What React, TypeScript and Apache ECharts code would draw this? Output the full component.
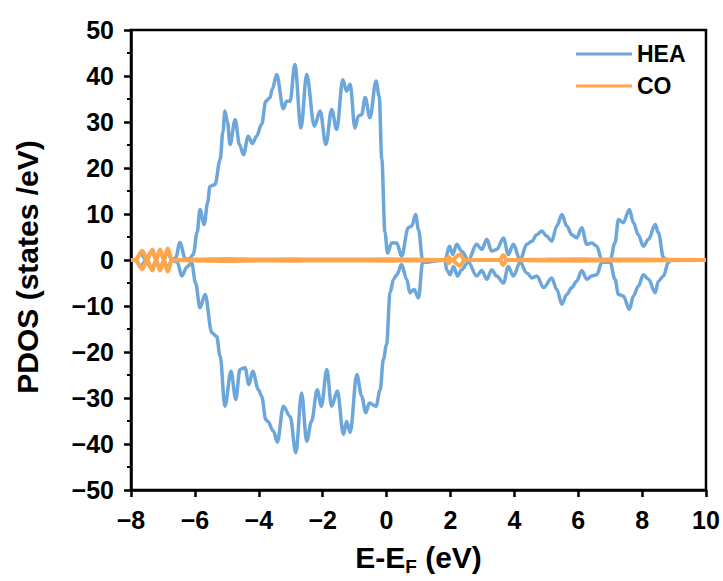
import React, { useEffect, useRef } from "react";
import * as echarts from "echarts";

const xTicks = { min: -8, max: 10, interval: 2 };
const yTicks = { min: -50, max: 50, interval: 10 };

const heaUp: number[][] = [
  [-8, 0], [-7.85, 0.1], [-7.7, 1.5], [-7.55, 0.2], [-7.35, 1.8], [-7.22, 0.3], [-7.1, 1.8],
  [-6.97, 0.3], [-6.85, 1.6], [-6.72, 0], [-6.6, 0.5], [-6.47, 3.8], [-6.3, 0.3], [-6.18, 0.2],
  [-6.05, 1.2], [-5.93, 6], [-5.84, 11.0], [-5.71, 7.7], [-5.6, 12.5], [-5.53, 16], [-5.37, 16.4],
  [-5.21, 21.8], [-5.12, 28], [-5.06, 32.4], [-4.98, 30], [-4.9, 25.1], [-4.74, 30.5], [-4.6, 25],
  [-4.48, 22.9], [-4.33, 26.9], [-4.2, 25.3], [-4.07, 26.9], [-3.91, 29.5], [-3.78, 34.5],
  [-3.65, 35.3], [-3.58, 37.1], [-3.44, 40.3], [-3.23, 32.9], [-3.13, 34.5], [-3.02, 34.5],
  [-2.87, 42.5], [-2.68, 28.7], [-2.5, 40.3], [-2.26, 29.1], [-2.08, 32.4], [-1.9, 25.1],
  [-1.72, 32.7], [-1.56, 28.4], [-1.37, 39.2], [-1.25, 36.7], [-1.14, 38.2], [-0.99, 28.7],
  [-0.88, 31.3], [-0.78, 31.6], [-0.67, 35.3], [-0.52, 30.9], [-0.33, 38.9], [-0.23, 35.6],
  [-0.15, 22], [-0.05, 6], [0.03, 1.5], [0.16, 3.7], [0.32, 3.7], [0.47, 0.8], [0.68, 7.0],
  [0.79, 7.4], [0.91, 9.9], [1.0, 6.6], [1.13, 0], [1.83, 0], [1.97, 3.0], [2.07, 1.2],
  [2.2, 3.4], [2.35, 1.9], [2.56, 0], [2.82, 3.4], [2.98, 2.3], [3.14, 4.5], [3.29, 1.9],
  [3.45, 2.3], [3.66, 4.8], [3.81, 1.2], [3.97, 3.4], [4.18, 0], [4.39, 3.4], [4.55, 4.1],
  [4.7, 5.5], [4.86, 6.3], [5.01, 5.2], [5.17, 4.1], [5.33, 7.4], [5.49, 9.9], [5.64, 7.4],
  [5.8, 5.5], [5.95, 4.8], [6.11, 7.0], [6.27, 3.4], [6.42, 3.7], [6.58, 3.0], [6.74, 0],
  [7.0, 0], [7.15, 3.7], [7.26, 8.8], [7.41, 8.1], [7.6, 11.0], [7.73, 8.1], [7.88, 5.5],
  [8.04, 3.0], [8.2, 4.5], [8.41, 7.7], [8.51, 5.9], [8.67, 0.5], [8.77, 0], [10, 0],
];

const heaDown: number[][] = [
  [-8, 0], [-7.85, -0.1], [-7.7, -1.5], [-7.55, -0.2], [-7.35, -1.8], [-7.22, -0.3], [-7.1, -1.8],
  [-6.97, -0.3], [-6.85, -1.6], [-6.72, 0], [-6.55, -0.5], [-6.41, -3.5], [-6.25, -1.5],
  [-6.1, -0.6], [-5.98, -5], [-5.84, -10.4], [-5.68, -7.5], [-5.47, -15.8], [-5.32, -16.6],
  [-5.21, -20.9], [-5.06, -31.8], [-4.87, -24.2], [-4.72, -30.3], [-4.59, -23.8], [-4.43, -23.4],
  [-4.31, -27.1], [-4.19, -24.2], [-4.01, -28.2], [-3.91, -29.6], [-3.78, -34.7], [-3.72, -35.1],
  [-3.54, -37.2], [-3.42, -39.6], [-3.23, -31.8], [-3.02, -34.0], [-2.84, -41.9], [-2.66, -28.9],
  [-2.5, -39.4], [-2.35, -35.1], [-2.17, -28.2], [-2.04, -31.8], [-1.87, -23.8], [-1.72, -31.8],
  [-1.54, -28.5], [-1.35, -37.9], [-1.25, -35.1], [-1.14, -37.5], [-0.93, -24.9], [-0.78, -29.6],
  [-0.65, -33.2], [-0.54, -31.1], [-0.33, -31.8], [-0.2, -28.2], [-0.1, -21.6], [0.0, -18.4],
  [0.11, -7.1], [0.22, -4.2], [0.32, -3.2], [0.47, -1.0], [0.63, -4.2], [0.73, -7.1],
  [0.86, -6.4], [1.0, -8.2], [1.13, -0.5], [1.83, 0], [1.88, -2.1], [1.99, -3.2], [2.1, -1.4],
  [2.22, -3.5], [2.35, -2.1], [2.56, -0.5], [2.82, -3.5], [2.98, -2.3], [3.14, -4.2],
  [3.29, -2.1], [3.45, -3.5], [3.66, -5.0], [3.81, -1.4], [3.97, -3.5], [4.18, -0.5],
  [4.39, -2.8], [4.55, -3.9], [4.7, -3.5], [4.92, -6.0], [5.17, -3.9], [5.33, -6.4],
  [5.49, -9.6], [5.64, -7.5], [5.8, -6.0], [5.95, -4.6], [6.11, -2.3], [6.27, -4.2],
  [6.42, -3.5], [6.58, -3.2], [6.74, -0.5], [7.0, -0.5], [7.15, -4.2], [7.26, -7.5],
  [7.41, -7.8], [7.6, -10.7], [7.73, -7.8], [7.88, -5.7], [8.04, -3.2], [8.2, -4.2],
  [8.41, -7.1], [8.51, -4.6], [8.67, -3.5], [8.82, -0.5], [8.9, 0], [10, 0],
];

const coUp: number[][] = [
  [-8, 0], [-7.85, 0], [-7.65, 2.0], [-7.49, 0], [-7.33, 2.3], [-7.21, 0], [-7.09, 2.3],
  [-6.97, 0], [-6.85, 2.5], [-6.72, 0], [-6.0, 0.1], [-5.0, 0.2], [-4.0, 0.1], [-3.0, 0.15],
  [-2.0, 0.1], [-1.0, 0.1], [0.0, 0.15], [1.0, 0.1], [1.86, 0], [1.94, 0.7], [2.03, 0],
  [2.3, 1.2], [2.45, 0], [3.55, 0], [3.65, 1.1], [3.76, 0], [5.0, 0.1], [6.0, 0.15],
  [7.0, 0.1], [8.0, 0.1], [10, 0],
];

const coDown: number[][] = [
  [-8, 0], [-7.85, 0], [-7.65, -2.0], [-7.49, 0], [-7.33, -2.3], [-7.21, 0], [-7.09, -2.3],
  [-6.97, 0], [-6.85, -2.5], [-6.72, 0], [-6.0, -0.1], [-5.0, -0.2], [-4.0, -0.1], [-3.0, -0.15],
  [-2.0, -0.1], [-1.0, -0.1], [0.0, -0.15], [1.0, -0.1], [1.86, 0], [1.94, -0.7], [2.03, 0],
  [2.3, -1.2], [2.45, 0], [3.55, 0], [3.65, -1.1], [3.76, 0], [5.0, -0.1], [6.0, -0.15],
  [7.0, -0.1], [8.0, -0.1], [10, 0],
];

const BLUE = "#6DA6DA";
const ORANGE = "#FFA64D";
const FONT = "'Liberation Sans', Arial, Helvetica, sans-serif";

const minus = (v: number) => String(v).replace("-", "\u2212");

export default function App() {
  const ref = useRef<HTMLDivElement>(null);
  useEffect(() => {
    if (!ref.current) return;
    const chart = echarts.init(ref.current, undefined, { renderer: "svg" });
    const lineSeries = (name: string, data: number[][], color: string, width: number) => ({
      type: "line",
      name,
      data,
      showSymbol: false,
      symbol: "none",
      smooth: 0.35,
      smoothMonotone: "x",
      lineStyle: { color, width },
      itemStyle: { color },
    });
    chart.setOption({
      animation: false,
      backgroundColor: "#fff",
      grid: {
        left: 131,
        right: 17,
        top: 30,
        bottom: 90,
        show: true,
        borderColor: "#000",
        borderWidth: 2.5,
        backgroundColor: "transparent",
      },
      legend: {
        data: [
          { name: "HEA", icon: "rect" },
          { name: "CO", icon: "rect" },
        ],
        orient: "vertical",
        left: 571,
        top: 37,
        padding: 5,
        itemWidth: 56,
        itemHeight: 3,
        itemGap: 8,
        textStyle: { fontFamily: FONT, fontWeight: "bold", fontSize: 23, lineHeight: 24, color: "#000" },
      },
      xAxis: {
        type: "value",
        min: xTicks.min,
        max: xTicks.max,
        interval: xTicks.interval,
        axisLine: { show: true, onZero: false, lineStyle: { color: "#000", width: 2.5 } },
        axisTick: { show: true, inside: false, length: 7, lineStyle: { color: "#000", width: 2.5 } },
        splitLine: { show: false },
        axisLabel: {
          formatter: minus,
          fontFamily: FONT,
          fontWeight: "bold",
          fontSize: 25,
          color: "#000",
          margin: 17,
        },
        name: "E-E{sub|F} (eV)",
        nameLocation: "middle",
        nameGap: 49,
        nameTextStyle: {
          fontFamily: FONT,
          fontWeight: "bold",
          fontSize: 30,
          color: "#000",
          rich: {
            sub: { fontFamily: FONT, fontWeight: "bold", fontSize: 19, color: "#000", verticalAlign: "bottom", padding: [18, 0, 0, 0] },
          },
        },
      },
      yAxis: {
        type: "value",
        min: yTicks.min,
        max: yTicks.max,
        interval: yTicks.interval,
        axisLine: { show: true, onZero: false, lineStyle: { color: "#000", width: 2.5 } },
        axisTick: { show: true, inside: false, length: 7, lineStyle: { color: "#000", width: 2.5 } },
        minorTick: { show: true, splitNumber: 2, length: 4, lineStyle: { color: "#000", width: 2 } },
        splitLine: { show: false },
        minorSplitLine: { show: false },
        axisLabel: {
          formatter: minus,
          fontFamily: FONT,
          fontWeight: "bold",
          fontSize: 25,
          color: "#000",
          margin: 17,
        },
        name: "PDOS (states /eV)",
        nameLocation: "middle",
        nameGap: 89,
        nameRotate: 90,
        nameTextStyle: { fontFamily: FONT, fontWeight: "bold", fontSize: 30, color: "#000", padding: [0, 14, 0, 0] },
      },
      series: [
        lineSeries("HEA", heaUp, BLUE, 3.5),
        lineSeries("HEA", heaDown, BLUE, 3.5),
        lineSeries("CO", coUp, ORANGE, 4),
        lineSeries("CO", coDown, ORANGE, 4),
      ],
    });
    return () => chart.dispose();
  }, []);
  return <div ref={ref} style={{ width: 723, height: 581, position: "absolute", left: 0, top: 0 }} />;
}
